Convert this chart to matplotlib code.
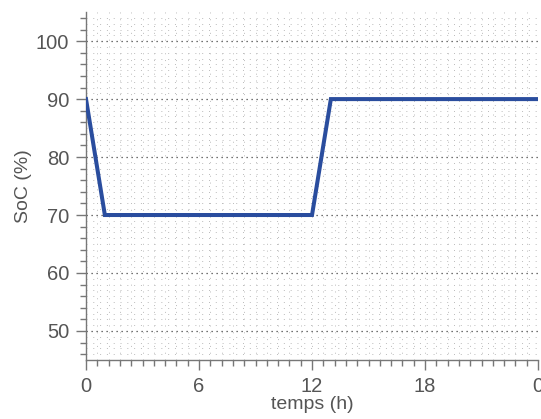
import matplotlib
matplotlib.use("Agg")
import matplotlib.pyplot as plt
from matplotlib.ticker import MultipleLocator
import numpy as np

hours = [0, 1, 12, 13, 24]
soc = [90, 70, 70, 90, 90]
xticks = [0, 6, 12, 18, 24]
xticklabels = ["0", "6", "12", "18", "0"]
yticks = [50, 60, 70, 80, 90, 100]

plt.rcParams['font.family'] = ['Liberation Sans', 'DejaVu Sans']
gray = '#555555'

fig = plt.figure(figsize=(5.41, 4.19), dpi=100)
ax = fig.add_axes([0.159, 0.141, 0.8355, 0.830])

ax.set_xlim(0, 24)
ax.set_ylim(45, 105)

# grid lines
for yv in np.arange(46, 105, 1):
    if yv % 10 == 0:
        ax.axhline(yv, color='#444444', lw=0.9, ls=(0, (1, 3)), zorder=1)
    else:
        ax.axhline(yv, color='#bbbbbb', lw=0.7, ls=(0, (1, 6)), zorder=1)
for xv in np.arange(0.6, 24, 0.6):
    ax.axvline(xv, color='#bbbbbb', lw=0.7, ls=(0, (1, 6)), zorder=1)

ax.plot(hours, soc, color='#2a4d9e', lw=2.9, zorder=3, solid_joinstyle='miter')

ax.set_xticks(xticks)
ax.set_xticklabels(xticklabels)
ax.set_yticks(yticks)
ax.xaxis.set_minor_locator(MultipleLocator(0.6))
ax.yaxis.set_minor_locator(MultipleLocator(2))

for s in ['top', 'right']:
    ax.spines[s].set_visible(False)
for s in ['left', 'bottom']:
    ax.spines[s].set_color('#777777')
    ax.spines[s].set_linewidth(1.0)

ax.tick_params(which='major', direction='out', length=7, width=1, colors='#777777',
               labelcolor=gray, labelsize=14.5, pad=5)
ax.tick_params(which='minor', direction='out', length=4, width=1, colors='#777777')

ax.set_xlabel('temps (h)', color=gray, fontsize=14, labelpad=0)
ax.set_ylabel('SoC (%)', color=gray, fontsize=14, labelpad=3)

fig.savefig('out.png', dpi=100)
